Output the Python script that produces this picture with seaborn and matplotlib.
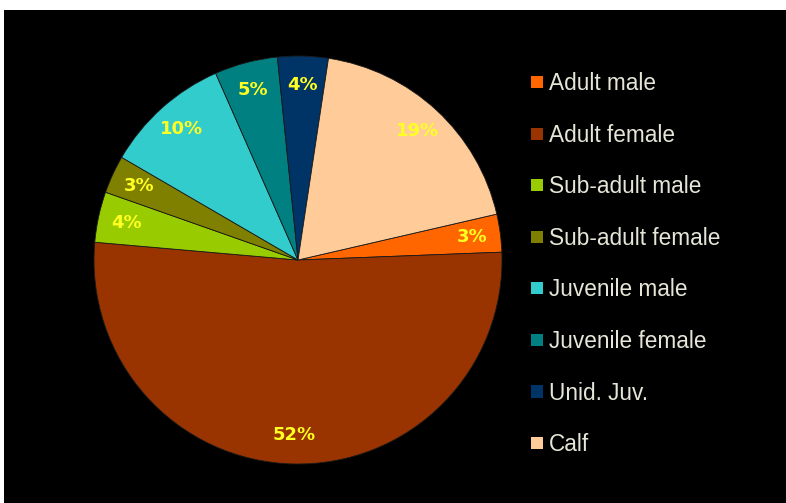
import matplotlib
matplotlib.use("Agg")
import matplotlib.pyplot as plt
import seaborn as sns

# age / sex classes and their share (%)
classes = ["Adult male", "Adult female", "Sub-adult male", "Sub-adult female",
           "Juvenile male", "Juvenile female", "Unid. Juv.", "Calf"]
shares = [3, 52, 4, 3, 10, 5, 4, 19]
colors = ["#FF6600", "#993300", "#99CC00", "#808000",
          "#33CCCC", "#008080", "#003366", "#FFCC99"]

sns.set_style("dark", {"axes.facecolor": "black", "figure.facecolor": "white"})

fig = plt.figure(figsize=(7.86, 5.03), dpi=100)

# black slide area with a thin white margin on top and left
bg = fig.add_axes([4 / 786, 0, 1, 1 - 10 / 503], zorder=-10)
bg.set_facecolor("black")
bg.set_xticks([])
bg.set_yticks([])
for s in bg.spines.values():
    s.set_visible(False)

r = 204
cx, cy = 298, 260
ax = fig.add_axes([(cx - r) / 786, (503 - cy - r) / 503, 2 * r / 786, 2 * r / 503])
ax.set_facecolor("none")

wedges, texts, autotexts = ax.pie(
    shares, colors=colors, startangle=13, counterclock=False,
    autopct="%1.0f%%", pctdistance=0.86, radius=1,
    wedgeprops={"edgecolor": "#1a1a1a", "linewidth": 0.6},
    textprops={"color": "#FFFF22", "fontsize": 13, "fontweight": "bold",
               "family": "DejaVu Sans"})
ax.set_xlim(-1, 1)
ax.set_ylim(-1, 1)
ax.set_aspect("auto")
ax.axis("off")

leg = fig.legend(wedges, classes, loc="upper left",
                 bbox_to_anchor=(511 / 786, 1 - 52 / 503),
                 frameon=False, handlelength=0.5, handleheight=0.45,
                 handletextpad=0.27, labelspacing=1.26,
                 prop={"family": "Liberation Sans", "size": 16.3})
for t in leg.get_texts():
    t.set_color("#E6E6D8")
for h in leg.legend_handles:
    h.set_edgecolor("none")

fig.savefig("out.png", dpi=100, facecolor="white")
